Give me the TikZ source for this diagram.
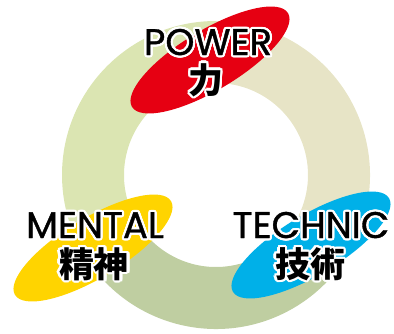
\documentclass[tikz,border=0pt]{standalone}
\usepackage{fontspec}
\newfontfamily\latinfont{Poppins}[FakeBold=1]
\newfontfamily\jpfont{Noto Sans CJK JP}
\usetikzlibrary{shapes.geometric}
\definecolor{ringleft}{RGB}{219,229,178}
\definecolor{ringright}{RGB}{231,228,198}
\definecolor{ringbottom}{RGB}{191,206,161}
\definecolor{powerred}{RGB}{230,0,18}
\definecolor{mentalyellow}{RGB}{255,212,0}
\definecolor{technicblue}{RGB}{0,176,232}
% white outline under the black letters
\newcommand\halo[1]{\leavevmode\rlap{\color{white}%
\foreach \dx/\dy in {2.2/0,-2.2/0,0/2.2,0/-2.2,1.6/1.6,-1.6/1.6,1.6/-1.6,-1.6/-1.6,2/1,-2/1,2/-1,-2/-1,1/2,-1/2,1/-2,-1/-2}{\rlap{\kern\dx pt\raisebox{\dy pt}{#1}}}}#1}
\tikzstyle{oval} = [ellipse, inner sep=0pt, minimum width=182pt, minimum height=60pt, rotate=31]
\tikzstyle{latin} = [font=\latinfont\fontsize{37}{37}\selectfont, anchor=base, inner sep=0pt]
\tikzstyle{kanji} = [font=\jpfont\bfseries\fontsize{35}{35}\selectfont, inner sep=0pt]

\begin{document}
\begin{tikzpicture}[x=1pt,y=1pt]
\useasboundingbox (0,0) rectangle (394,333);

% ring
\begin{scope}[shift={(216,158)}]
\fill[ringleft] (90:154) arc (90:210:154) -- (210:92) arc (210:90:92) -- cycle;
\fill[ringright] (-30:154) arc (-30:90:154) -- (90:92) arc (90:-30:92) -- cycle;
\fill[ringbottom] (210:154) arc (210:330:154) -- (330:92) arc (330:210:92) -- cycle;
\end{scope}

\node [oval, fill=powerred] (power) at (210,273) {};
\node [oval, fill=mentalyellow] (mental) at (93,85) {};
\node [oval, fill=technicblue] (technic) at (311,88) {};

\node [latin] (powertxt) at (208,278) {\halo{POWER}};
\node [kanji] (powerjp) at (206,253) {\halo{力}};
\node [latin] (mentaltxt) at (95,95) {\halo{MENTAL}};
\node [kanji] (mentaljp) at (94,69) {\halo{精神}};
\node [latin] (technictxt) at (311,95) {\halo{TECHNIC}};
\node [kanji] (technicjp) at (310,69) {\halo{技術}};
\end{tikzpicture}
\end{document}
